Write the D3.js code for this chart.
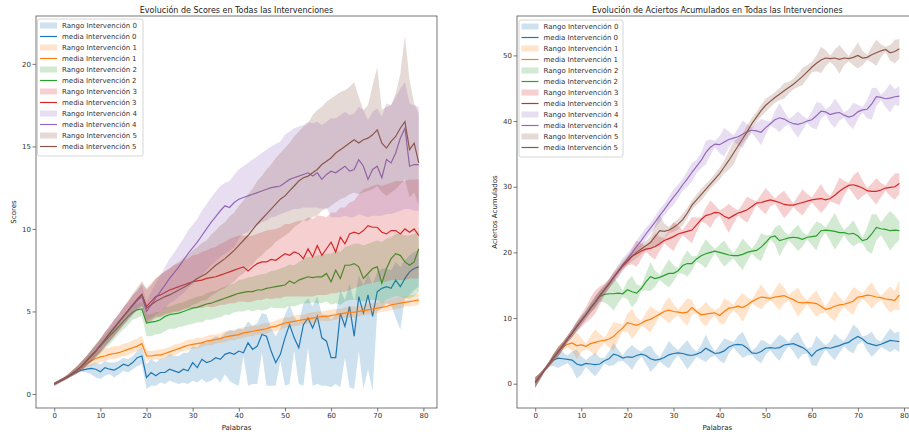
<!DOCTYPE html>
<html>
<head>
<meta charset="utf-8">
<script src="https://cdn.jsdelivr.net/npm/d3@7"></script>
<style>
  body { margin: 0; background: #fff; }
  svg { display: block; font-family: "DejaVu Sans", sans-serif; }
</style>
</head>
<body>
<div class="chart"></div>
<script>
const colors = ['#1f77b4', '#ff7f0e', '#2ca02c', '#d62728', '#9467bd', '#8c564b'];
const intervenciones = ['0', '1', '2', '3', '4', '5'];
const xTicks = [0, 10, 20, 30, 40, 50, 60, 70, 80];
const scoreTicks = [0, 5, 10, 15, 20];
const aciertoTicks = [0, 10, 20, 30, 40, 50];

// ---- Scores (left): media, distance down to range, distance up to range
const scoreMean0 = [0.6,0.75,0.9,1.05,1.2,1.35,1.45,1.5,1.55,1.5,
  1.35,1.6,1.5,1.45,1.6,1.8,1.7,1.9,2.2,2.3,
  1.0,1.3,1.1,1.3,1.3,1.5,1.4,1.3,1.5,1.4,
  1.9,1.6,2.1,1.9,2.0,2.2,2.1,2.4,2.5,2.4,
  2.6,2.5,3.1,2.7,2.9,3.6,3.5,2.6,1.9,2.4,
  3.4,4.2,3.4,2.8,4.2,4.6,4.0,4.7,3.4,3.2,
  2.2,2.2,4.9,4.1,5.3,3.5,5.9,4.9,6.0,4.7,
  6.2,6.4,6.5,6.4,6.9,6.5,7.0,7.4,7.6,7.7];
const scoreDown0 = [0.1,0.1,0.1,0.1,0.1,0.1,0.1,0.2,0.35,0.5,
  0.45,0.5,0.3,0.45,0.4,0.4,0.4,0.4,0.5,0.5,
  0.7,0.8,0.6,0.6,0.7,0.7,0.7,0.7,0.8,0.8,
  1.1,0.9,1.2,1.2,1.2,1.2,1.4,1.2,1.7,1.8,
  2.1,0.2,2.6,2.1,2.3,1.1,3.0,2.1,1.4,0.4,
  2.9,3.6,0.8,2.2,3.7,1.8,3.5,4.1,2.9,2.7,
  1.8,1.6,4.5,1.9,4.9,3.2,3.3,4.6,4.5,4.5,
  1.2,1.2,1.0,1.0,2.3,2.6,1.2,1.4,1.3,1.2];
const scoreUp0 = [0.1,0.1,0.1,0.1,0.1,0.1,0.15,0.2,0.25,0.4,
  0.45,0.4,0.4,0.45,0.4,0.4,0.4,0.4,0.4,0.5,
  0.8,0.8,0.8,0.8,0.9,0.9,0.9,1.0,1.0,1.1,
  1.0,1.2,1.1,1.2,1.3,1.3,1.3,1.3,1.4,1.4,
  1.4,1.4,1.3,1.4,1.4,1.3,1.3,1.4,1.6,1.6,
  1.4,1.2,1.3,1.5,1.3,1.2,1.3,1.2,1.4,1.6,
  2.3,2.6,1.4,1.6,1.4,2.1,1.3,1.7,1.3,1.9,
  1.2,1.2,1.1,1.1,1.1,1.2,1.1,1.0,1.0,1.0];

const scoreMean1 = [0.6,0.75,0.9,1.05,1.25,1.45,1.65,1.85,2.0,2.15,
  2.25,2.3,2.4,2.45,2.5,2.6,2.7,2.8,2.9,3.05,
  2.3,2.3,2.35,2.35,2.45,2.55,2.65,2.75,2.85,2.95,
  3.0,3.05,3.1,3.2,3.25,3.3,3.35,3.45,3.5,3.55,
  3.6,3.7,3.75,3.8,3.85,3.9,3.95,4.05,4.1,4.2,
  4.3,4.35,4.4,4.45,4.5,4.55,4.6,4.65,4.7,4.7,
  4.75,4.8,4.85,4.9,4.95,4.95,5.0,5.05,5.1,5.15,
  5.2,5.25,5.3,5.4,5.45,5.5,5.55,5.6,5.65,5.7];
const scoreDown1 = [0.1,0.1,0.1,0.1,0.1,0.1,0.15,0.2,0.3,0.3,
  0.35,0.3,0.3,0.35,0.3,0.3,0.35,0.3,0.3,0.35,
  0.3,0.25,0.25,0.3,0.25,0.25,0.3,0.25,0.25,0.3,
  0.25,0.3,0.25,0.25,0.3,0.25,0.25,0.3,0.25,0.3,
  0.25,0.3,0.25,0.3,0.25,0.3,0.3,0.25,0.3,0.3,
  0.3,0.25,0.3,0.3,0.25,0.3,0.3,0.3,0.25,0.3,
  0.3,0.3,0.25,0.3,0.3,0.3,0.3,0.25,0.3,0.3,
  0.3,0.25,0.3,0.3,0.3,0.3,0.25,0.3,0.3,0.3];
const scoreUp1 = [0.1,0.1,0.1,0.15,0.2,0.25,0.3,0.35,0.4,0.45,
  0.4,0.45,0.4,0.45,0.4,0.45,0.4,0.45,0.45,0.5,
  0.35,0.3,0.3,0.35,0.3,0.3,0.35,0.3,0.3,0.35,
  0.3,0.35,0.3,0.3,0.35,0.3,0.3,0.35,0.3,0.35,
  0.3,0.35,0.3,0.35,0.3,0.35,0.35,0.3,0.35,0.35,
  0.35,0.3,0.35,0.35,0.3,0.35,0.35,0.35,0.3,0.35,
  0.35,0.35,0.3,0.35,0.35,0.35,0.35,0.3,0.35,0.35,
  0.35,0.3,0.35,0.35,0.4,0.4,0.35,0.4,0.35,0.4];

const scoreMean2 = [0.6,0.75,0.9,1.05,1.25,1.45,1.7,2.0,2.3,2.6,
  2.9,3.2,3.5,3.8,4.1,4.4,4.7,4.95,5.1,5.15,
  4.3,4.35,4.4,4.5,4.7,4.8,4.85,4.9,5.0,5.1,
  5.2,5.25,5.35,5.45,5.5,5.6,5.7,5.8,5.9,6.0,
  6.1,6.15,6.2,6.2,6.3,6.3,6.4,6.45,6.5,6.55,
  6.6,6.85,6.7,6.9,7.0,7.1,7.05,7.1,7.1,7.3,
  6.8,7.5,7.0,7.8,7.8,7.9,7.7,7.0,7.3,7.6,
  7.7,6.7,7.6,8.2,8.5,8.4,8.0,7.8,8.0,8.8];
const scoreDown2 = [0.1,0.1,0.1,0.1,0.15,0.2,0.25,0.3,0.35,0.4,
  0.45,0.45,0.5,0.5,0.45,0.5,0.5,0.45,0.5,0.4,
  0.8,0.85,0.8,0.85,0.9,0.85,0.9,0.85,0.9,0.9,
  0.95,0.9,1.0,0.95,1.0,1.0,1.05,1.0,1.1,1.05,
  1.1,1.15,1.1,1.2,1.2,1.25,1.3,1.2,1.3,1.35,
  1.4,1.5,1.4,1.5,1.5,1.6,1.5,1.6,1.6,1.7,
  1.4,2.0,1.6,2.2,2.1,2.2,2.0,1.4,1.6,1.9,
  2.0,1.2,1.9,2.4,2.6,2.5,2.2,2.0,2.1,2.6];
const scoreUp2 = [0.1,0.1,0.1,0.15,0.2,0.25,0.3,0.3,0.35,0.35,
  0.4,0.35,0.4,0.35,0.4,0.35,0.35,0.4,0.4,0.45,
  0.5,0.5,0.55,0.5,0.55,0.5,0.55,0.6,0.55,0.6,
  0.6,0.65,0.6,0.65,0.7,0.65,0.7,0.7,0.75,0.7,
  0.8,0.8,0.85,0.9,0.9,0.95,0.9,1.0,1.0,1.05,
  1.1,1.0,1.1,1.1,1.2,1.2,1.25,1.3,1.3,1.2,
  1.7,1.2,1.6,1.1,1.2,1.2,1.4,2.0,1.8,1.6,
  1.6,2.5,1.8,1.3,1.2,1.3,1.6,1.8,1.7,1.1];

const scoreMean3 = [0.6,0.75,0.9,1.05,1.25,1.45,1.7,2.0,2.3,2.6,
  2.95,3.3,3.65,4.0,4.35,4.7,5.05,5.4,5.7,6.0,
  5.3,5.6,5.9,6.0,6.15,6.3,6.4,6.5,6.6,6.7,
  6.8,6.85,6.9,7.0,7.05,7.1,7.2,7.3,7.4,7.5,
  7.6,7.7,7.45,7.7,7.9,8.0,8.0,8.15,8.1,8.3,
  8.5,8.4,8.6,8.5,8.2,8.8,8.3,9.0,8.4,8.8,
  9.2,8.6,9.5,9.1,9.7,9.8,9.7,9.9,10.2,10.1,
  10.1,9.8,9.7,9.9,9.9,9.7,10.0,9.8,10.0,9.6];
const scoreDown3 = [0.1,0.1,0.1,0.1,0.15,0.2,0.25,0.3,0.35,0.35,
  0.4,0.4,0.45,0.45,0.5,0.5,0.5,0.55,0.6,0.7,
  1.0,1.1,1.2,1.3,1.3,1.4,1.4,1.5,1.5,1.5,
  1.6,1.6,1.7,1.7,1.8,1.8,1.8,1.9,1.9,2.0,
  2.0,2.1,1.9,2.1,2.2,2.3,2.2,2.4,2.3,2.5,
  2.6,2.5,2.7,2.6,2.3,2.9,2.4,3.0,2.4,2.8,
  3.1,2.5,3.3,2.9,3.4,3.4,3.2,3.3,3.5,3.4,
  3.3,3.0,2.9,3.0,3.0,2.8,3.1,2.8,3.0,2.6];
const scoreUp3 = [0.1,0.1,0.1,0.15,0.2,0.25,0.3,0.3,0.35,0.4,
  0.4,0.45,0.45,0.5,0.5,0.55,0.55,0.6,0.6,0.7,
  1.0,1.0,1.1,1.2,1.3,1.3,1.4,1.4,1.5,1.5,
  1.6,1.6,1.7,1.7,1.8,1.8,1.9,1.9,2.0,2.0,
  2.0,1.9,2.1,1.9,1.8,1.8,1.9,1.8,1.9,1.8,
  1.8,1.9,1.8,2.0,2.3,1.9,2.3,1.8,2.4,1.9,
  1.8,2.4,1.8,2.2,1.9,1.9,2.4,2.5,2.3,2.5,
  2.6,2.8,3.0,2.9,3.0,3.2,2.9,3.2,3.0,3.4];

const scoreMean4 = [0.6,0.75,0.9,1.05,1.25,1.45,1.7,2.0,2.3,2.6,
  2.95,3.3,3.65,4.0,4.35,4.7,5.0,5.35,5.65,5.9,
  5.0,5.4,5.8,6.2,6.6,7.0,7.35,7.7,8.1,8.5,
  8.85,9.2,9.6,10.0,10.4,10.75,11.1,11.4,11.3,11.6,
  11.8,11.9,12.0,12.1,12.2,12.3,12.4,12.5,12.55,12.6,
  12.8,13.0,13.1,13.2,13.3,13.4,13.2,13.4,13.0,13.3,
  13.5,13.4,13.6,13.8,13.5,13.6,14.2,13.8,13.0,13.6,
  13.8,13.1,14.2,14.0,14.6,15.5,16.1,13.8,13.9,13.9];
const scoreDown4 = [0.1,0.1,0.1,0.1,0.15,0.2,0.25,0.3,0.35,0.35,
  0.4,0.45,0.45,0.5,0.5,0.5,0.55,0.55,0.6,0.6,
  0.5,0.8,1.0,1.2,1.4,1.5,1.7,1.8,2.0,2.1,
  2.2,2.3,2.4,2.5,2.6,2.7,2.8,2.9,2.6,2.7,
  2.4,2.2,2.2,2.0,2.0,1.9,1.9,1.8,1.8,1.7,
  1.8,1.9,1.9,2.0,2.0,2.1,1.9,2.1,1.8,2.0,
  2.8,2.7,2.9,3.0,2.8,2.9,3.3,3.0,2.3,2.8,
  3.0,2.3,3.3,3.1,3.6,4.4,4.9,2.6,2.8,2.8];
const scoreUp4 = [0.1,0.1,0.1,0.15,0.2,0.25,0.3,0.3,0.35,0.4,
  0.4,0.45,0.45,0.5,0.5,0.55,0.55,0.6,0.6,0.7,
  0.6,0.8,0.9,1.0,1.1,1.2,1.2,1.3,1.3,1.4,
  1.4,1.4,1.5,1.5,1.5,1.5,1.5,1.4,1.6,1.7,
  1.8,1.9,2.0,2.1,2.2,2.3,2.4,2.5,2.6,2.7,
  2.9,2.9,3.0,3.0,3.0,3.1,3.2,3.1,3.3,3.2,
  3.2,3.3,3.3,3.3,3.4,3.4,3.2,3.4,3.6,3.5,
  3.5,3.7,3.4,3.5,3.4,3.0,2.8,3.8,3.6,3.5];

const scoreMean5 = [0.6,0.75,0.9,1.05,1.25,1.45,1.7,2.0,2.3,2.6,
  2.95,3.3,3.65,4.0,4.35,4.7,5.05,5.4,5.75,6.05,
  5.2,5.4,5.6,5.75,5.9,6.0,6.15,6.3,6.45,6.6,
  6.8,7.0,7.15,7.3,7.55,7.8,8.0,8.2,8.45,8.7,
  9.0,9.3,9.6,9.95,10.3,10.6,10.9,11.2,11.5,11.8,
  12.0,12.3,12.6,12.9,13.1,13.2,13.4,13.6,13.9,14.1,
  14.3,14.6,14.8,15.0,15.2,15.4,15.2,15.4,15.5,15.7,
  16.0,15.2,14.9,15.3,15.6,16.1,16.5,14.8,15.2,14.0];
const scoreDown5 = [0.1,0.1,0.1,0.1,0.15,0.2,0.25,0.3,0.35,0.35,
  0.4,0.45,0.45,0.5,0.5,0.55,0.55,0.6,0.6,0.7,
  0.9,1.0,1.0,1.1,1.1,1.2,1.2,1.3,1.3,1.4,
  1.4,1.5,1.5,1.6,1.6,1.7,1.7,1.8,1.8,1.9,
  1.9,2.0,2.0,2.1,2.1,2.2,2.2,2.3,2.3,2.4,
  2.4,2.5,2.5,2.6,2.6,2.7,2.7,2.8,2.8,2.9,
  2.9,3.0,3.0,3.1,3.1,3.2,3.1,3.2,3.2,3.3,
  3.4,3.0,2.9,3.1,3.2,3.4,3.5,2.9,3.0,2.6];
const scoreUp5 = [0.1,0.1,0.1,0.15,0.2,0.25,0.3,0.3,0.35,0.4,
  0.4,0.45,0.45,0.5,0.5,0.55,0.6,0.65,0.7,0.8,
  1.2,1.3,1.4,1.5,1.5,1.6,1.7,1.7,1.8,1.8,
  1.9,1.9,2.0,2.0,2.1,2.1,2.2,2.2,2.3,2.3,
  2.4,2.4,2.5,2.5,2.6,2.6,2.7,2.7,2.8,2.8,
  2.9,2.9,3.0,3.0,3.1,3.2,3.5,3.6,3.5,3.6,
  3.6,3.5,3.5,3.4,3.4,3.5,2.8,1.8,2.0,3.0,
  3.8,2.0,2.5,2.2,2.6,3.3,5.2,4.2,2.4,3.0];

// ---- Aciertos acumulados (right): media and symmetric spread
const aciertoMean0 = [0.2,1.1,2.1,3.0,3.6,3.9,3.8,3.7,3.6,3.0,
  2.8,3.1,3.0,2.9,3.0,3.5,3.8,4.5,4.3,3.9,
  4.1,4.0,4.3,4.5,4.3,3.8,3.6,3.7,4.0,4.4,
  4.6,4.7,4.6,4.4,4.3,4.5,4.8,5.4,5.0,4.6,
  4.7,5.0,5.6,5.9,6.0,5.9,5.4,4.7,4.6,4.9,
  5.4,5.5,5.4,5.5,5.9,6.0,6.1,5.8,5.5,5.0,
  4.2,5.0,5.3,5.5,5.4,5.6,5.8,6.1,6.3,6.8,
  7.2,6.8,6.2,6.0,5.8,6.0,6.3,6.6,6.5,6.4];
const aciertoSd0 = [0.8,0.5,0.3,0.4,0.9,1.5,1.0,0.6,1.3,2.2,
  1.4,0.5,1.2,1.8,1.0,0.4,1.1,1.7,0.9,0.4,
  1.2,1.9,1.0,0.4,1.2,2.0,1.1,0.3,1.2,2.1,
  1.1,0.4,1.3,2.2,1.2,0.4,1.1,2.1,1.0,0.3,
  1.2,1.9,1.0,0.4,1.3,2.0,1.1,0.3,1.0,1.8,
  1.0,0.4,1.2,2.0,1.1,0.3,1.2,2.1,1.0,0.4,
  1.4,2.3,1.2,0.3,1.1,2.0,1.1,0.4,1.3,2.2,
  1.2,0.4,1.2,1.9,1.0,0.4,1.1,1.8,1.2,1.6];

const aciertoMean1 = [0.2,1.1,2.1,3.0,4.0,4.9,5.6,6.0,6.2,5.8,
  5.9,5.7,6.1,6.3,6.5,6.6,6.8,7.2,7.9,8.5,
  9.3,9.1,8.9,9.2,9.6,9.8,10.2,10.6,11.0,11.2,
  11.0,10.9,10.8,10.9,11.6,11.0,10.5,10.6,10.7,10.8,
  10.4,11.0,11.5,11.6,11.8,11.6,12.0,12.5,12.9,13.2,
  13.1,13.0,13.2,13.3,13.4,13.1,12.8,12.4,12.3,12.4,
  12.3,12.2,11.8,11.3,11.5,11.8,12.0,12.1,12.3,12.6,
  13.2,13.3,13.5,13.4,13.2,13.1,12.9,12.8,12.7,13.5];
const aciertoSd1 = [0.8,0.5,0.3,0.4,0.6,0.8,0.6,0.5,1.2,2.0,
  1.1,0.4,1.2,2.0,1.1,0.4,1.3,2.2,1.3,0.5,
  1.4,2.3,1.2,0.4,1.2,2.0,1.1,0.3,1.2,2.0,
  1.1,0.4,1.3,2.1,1.1,0.3,1.1,1.9,1.0,0.4,
  1.2,2.0,1.1,0.4,1.3,2.2,1.2,0.3,1.1,1.9,
  1.0,0.3,1.2,2.1,1.2,0.4,1.3,2.2,1.1,0.3,
  1.2,2.0,1.1,0.4,1.4,2.3,1.2,0.4,1.3,2.1,
  1.1,0.4,1.2,2.0,1.0,0.3,1.2,2.0,1.4,2.3];

const aciertoMean2 = [0.2,1.1,2.1,3.0,4.0,4.9,5.8,6.8,7.7,8.7,
  9.6,10.5,11.5,12.4,13.3,13.6,13.7,13.7,13.8,13.7,
  14.3,14.0,13.8,14.5,15.5,16.3,16.0,16.2,16.5,16.8,
  16.8,17.2,18.0,18.3,18.3,19.0,19.5,19.8,20.0,20.2,
  20.0,19.8,19.6,19.5,19.5,19.7,20.0,20.2,20.3,20.8,
  21.5,22.3,22.5,21.8,22.0,22.2,22.3,22.2,22.0,22.3,
  22.4,22.5,23.3,23.4,23.3,23.2,23.0,23.0,22.8,22.9,
  22.5,21.8,22.0,22.8,23.8,23.6,23.5,23.3,23.4,23.3];
const aciertoSd2 = [0.8,0.5,0.3,0.4,0.6,0.7,0.6,0.5,0.6,0.7,
  0.6,0.5,0.7,1.0,0.8,1.2,1.8,2.6,1.5,0.5,
  1.4,2.4,1.3,0.4,1.3,2.2,1.2,0.4,1.3,2.1,
  1.2,0.4,1.2,2.0,1.1,0.4,1.3,2.2,1.2,0.3,
  1.2,2.0,1.1,0.4,1.4,2.4,1.3,0.4,1.2,2.1,
  1.1,0.3,1.3,2.4,1.2,0.4,1.2,2.0,1.1,0.3,
  1.3,2.2,1.1,0.4,1.6,2.8,1.5,0.4,1.2,2.0,
  1.1,0.4,1.8,3.0,2.0,1.0,2.0,3.0,2.2,1.4];

const aciertoMean3 = [0.2,1.1,2.1,3.0,4.0,4.9,5.8,6.8,7.7,8.7,
  9.6,10.5,11.5,12.4,13.4,14.3,15.2,16.2,17.1,17.9,
  18.6,19.4,19.8,20.2,20.5,20.6,20.9,21.3,21.8,22.1,
  22.4,22.8,23.0,23.2,23.4,24.2,25.0,25.6,25.8,26.1,
  26.0,25.5,25.2,25.6,26.0,26.2,26.5,27.0,27.5,27.6,
  27.8,28.0,27.8,27.6,27.3,27.2,27.2,27.4,27.6,27.8,
  28.0,28.1,28.2,28.0,28.2,28.7,29.3,29.8,30.2,30.3,
  30.1,29.8,29.4,29.3,29.3,29.5,29.8,29.9,30.0,30.5];
const aciertoSd3 = [0.8,0.5,0.3,0.4,0.6,0.7,0.6,0.5,0.6,0.8,
  1.0,1.2,1.6,1.8,1.4,0.9,0.7,0.6,0.5,0.5,
  0.6,1.2,2.0,1.2,0.4,1.2,2.0,1.1,0.4,1.3,
  2.2,1.2,0.4,1.2,2.0,1.1,0.3,1.2,2.1,1.1,
  0.4,1.3,2.2,1.2,0.4,1.2,2.0,1.1,0.3,1.2,
  2.0,1.0,0.4,1.3,2.1,1.2,0.3,1.2,2.0,1.1,
  0.4,1.3,2.2,1.2,0.4,1.2,2.1,1.1,0.4,1.4,
  2.2,1.2,0.4,1.2,2.0,1.1,0.4,1.3,2.0,1.6];

const aciertoMean4 = [0.2,1.1,2.1,3.0,4.0,4.9,5.8,6.8,7.7,8.7,
  9.6,10.5,11.5,12.4,13.4,14.3,15.2,16.2,17.1,18.1,
  19.0,19.9,20.9,21.8,22.8,23.7,24.6,25.6,26.5,27.5,
  28.4,29.3,30.3,31.2,32.2,33.1,34.0,35.2,36.0,36.5,
  36.4,36.8,37.2,37.4,37.6,38.0,38.4,38.6,38.5,38.3,
  39.0,39.6,40.2,40.5,40.3,39.9,39.6,39.5,39.7,40.0,
  40.2,40.8,41.5,41.4,41.0,41.2,41.3,40.9,40.6,40.8,
  41.4,41.7,41.8,42.6,43.7,43.6,43.4,43.5,43.7,43.8];
const aciertoSd4 = [0.8,0.5,0.3,0.4,0.5,0.6,0.6,0.5,0.6,0.7,
  0.8,0.7,0.6,0.8,0.9,0.8,0.7,0.8,1.0,1.0,
  0.9,0.8,0.9,1.0,0.9,0.8,0.9,1.0,0.9,1.0,
  1.2,1.0,0.9,1.2,1.4,1.0,1.2,1.8,1.2,0.5,
  1.3,2.2,1.2,0.4,1.3,2.1,1.1,0.4,1.2,2.0,
  1.1,0.3,1.3,2.2,1.2,0.4,1.2,2.0,1.1,0.3,
  1.2,2.1,1.2,0.4,1.3,2.2,1.2,0.4,1.2,2.0,
  1.1,0.4,1.4,2.4,1.4,0.4,1.3,2.2,1.2,1.5];

const aciertoMean5 = [0.2,1.1,2.1,3.0,4.0,4.9,5.8,6.8,7.7,8.7,
  9.6,10.5,11.5,12.4,13.4,14.3,15.2,16.2,17.1,18.1,
  18.8,19.4,20.0,20.5,21.0,21.5,22.4,23.3,23.2,23.4,
  23.8,24.3,25.0,26.0,27.2,28.0,28.8,29.6,30.4,31.2,
  32.0,33.0,34.0,35.1,36.2,37.3,38.4,39.6,40.6,41.6,
  42.4,43.0,43.6,44.1,44.6,45.1,45.6,46.2,46.8,47.5,
  48.2,48.8,49.3,49.6,49.5,49.6,49.4,49.6,49.5,49.7,
  50.0,49.6,49.7,50.1,50.4,50.7,50.9,50.4,50.6,51.0];
const aciertoSd5 = [0.8,0.5,0.3,0.4,0.5,0.6,0.5,0.5,0.6,0.6,
  0.6,0.7,0.8,0.8,0.7,0.6,0.7,0.8,0.7,0.6,
  0.7,0.8,0.9,0.8,0.7,0.9,1.6,2.4,1.2,0.5,
  0.7,0.8,0.9,0.8,0.7,0.8,0.9,0.8,0.7,0.8,
  0.9,1.0,1.4,1.8,1.2,0.8,1.0,0.9,0.8,0.9,
  1.0,0.9,0.8,0.9,1.2,0.9,0.8,1.0,1.3,1.0,
  0.8,1.2,2.0,1.2,0.5,1.3,2.2,1.1,0.4,1.2,
  2.0,1.1,0.4,1.2,2.0,1.0,0.4,1.2,1.8,1.5];

const scoreMeans = [scoreMean0, scoreMean1, scoreMean2, scoreMean3, scoreMean4, scoreMean5];
const scoreDowns = [scoreDown0, scoreDown1, scoreDown2, scoreDown3, scoreDown4, scoreDown5];
const scoreUps = [scoreUp0, scoreUp1, scoreUp2, scoreUp3, scoreUp4, scoreUp5];
const aciertoMeans = [aciertoMean0, aciertoMean1, aciertoMean2, aciertoMean3, aciertoMean4, aciertoMean5];
const aciertoSds = [aciertoSd0, aciertoSd1, aciertoSd2, aciertoSd3, aciertoSd4, aciertoSd5];

const width = 909, height = 432;
const plotTop = 16, plotBottom = 408;

const svg = d3.select('.chart').append('svg')
    .attr('width', width)
    .attr('height', height);

function drawPanel(cfg) {
    const xScale = d3.scaleLinear().domain([-3.95, 82.95]).range([cfg.left, cfg.right]);
    const yScale = d3.scaleLinear().domain(cfg.yDomain).range([plotBottom, plotTop]);

    svg.append('clipPath').attr('id', cfg.id)
        .append('rect')
        .attr('x', cfg.left).attr('y', plotTop)
        .attr('width', cfg.right - cfg.left).attr('height', plotBottom - plotTop);

    const g = svg.append('g').attr('clip-path', `url(#${cfg.id})`);

    cfg.series.forEach((s, i) => {
        const rows = s.mean.map((m, j) => ({x: j, m: m, lo: s.lo[j], hi: s.hi[j]}));
        g.append('path')
            .datum(rows)
            .attr('fill', colors[i])
            .attr('fill-opacity', 0.22)
            .attr('d', d3.area().x(d => xScale(d.x)).y0(d => yScale(d.lo)).y1(d => yScale(d.hi)));
        g.append('path')
            .datum(rows)
            .attr('fill', 'none')
            .attr('stroke', colors[i])
            .attr('stroke-width', 1.2)
            .attr('d', d3.line().x(d => xScale(d.x)).y(d => yScale(d.m)));
    });

    // axes
    const xAxis = svg.append('g')
        .attr('transform', `translate(0, ${plotBottom})`)
        .call(d3.axisBottom(xScale).tickValues(xTicks).tickSize(3.5).tickSizeOuter(0).tickPadding(2));
    const yAxis = svg.append('g')
        .attr('transform', `translate(${cfg.left}, 0)`)
        .call(d3.axisLeft(yScale).tickValues(cfg.yTicks).tickSize(3.5).tickSizeOuter(0).tickPadding(1.5));
    [xAxis, yAxis].forEach(a => {
        a.attr('font-family', null).attr('font-size', null);
        a.select('.domain').remove();
        a.selectAll('line').attr('stroke', '#555').attr('stroke-width', 0.8);
        a.selectAll('text').attr('fill', '#333').style('font-size', '7px');
    });

    svg.append('rect')
        .attr('x', cfg.left).attr('y', plotTop)
        .attr('width', cfg.right - cfg.left).attr('height', plotBottom - plotTop)
        .attr('fill', 'none').attr('stroke', '#555').attr('stroke-width', 0.8);

    const cx = (cfg.left + cfg.right) / 2;
    svg.append('text')
        .attr('x', cx).attr('y', 12.5)
        .attr('text-anchor', 'middle')
        .attr('fill', '#222')
        .style('font-size', '8px')
        .text(cfg.title);
    svg.append('text')
        .attr('x', cx).attr('y', 430)
        .attr('text-anchor', 'middle')
        .attr('fill', '#222')
        .style('font-size', '7px')
        .text('Palabras');
    svg.append('text')
        .attr('transform', `translate(${cfg.ylabelX}, ${(plotTop + plotBottom) / 2}) rotate(-90)`)
        .attr('text-anchor', 'middle')
        .attr('fill', '#222')
        .style('font-size', '7px')
        .text(cfg.ylabel);

    // legend
    const leg = svg.append('g');
    leg.append('rect')
        .attr('x', cfg.legX).attr('y', cfg.legY)
        .attr('width', cfg.legW).attr('height', 137)
        .attr('rx', 2)
        .attr('fill', 'white').attr('fill-opacity', 0.8)
        .attr('stroke', '#ccc').attr('stroke-width', 0.8);
    intervenciones.forEach((name, i) => {
        const yR = cfg.legY + 6.5 + (2 * i) * 11;
        const yM = yR + 11;
        leg.append('rect')
            .attr('x', cfg.legX + 2.5).attr('y', yR - 3)
            .attr('width', 17).attr('height', 6)
            .attr('fill', colors[i]).attr('fill-opacity', 0.22);
        leg.append('text')
            .attr('x', cfg.legX + 24.5).attr('y', yR + 2.5)
            .attr('fill', '#333').style('font-size', '7px')
            .text('Rango Intervención ' + name);
        leg.append('line')
            .attr('x1', cfg.legX + 2.5).attr('x2', cfg.legX + 19.5)
            .attr('y1', yM).attr('y2', yM)
            .attr('stroke', colors[i]).attr('stroke-width', 1.2);
        leg.append('text')
            .attr('x', cfg.legX + 24.5).attr('y', yM + 2.5)
            .attr('fill', '#333').style('font-size', '7px')
            .text('media Intervención ' + name);
    });
}

drawPanel({
    id: 'clip-scores',
    left: 36, right: 437,
    yDomain: [-0.85, 22.9],
    yTicks: scoreTicks,
    title: 'Evolución de Scores en Todas las Intervenciones',
    ylabel: 'Scores',
    ylabelX: 16,
    legX: 37.5, legY: 19, legW: 105.5,
    series: scoreMeans.map((m, i) => ({
        mean: m,
        lo: m.map((v, j) => v - scoreDowns[i][j]),
        hi: m.map((v, j) => v + scoreUps[i][j])
    }))
});

drawPanel({
    id: 'clip-aciertos',
    left: 517, right: 917.6,
    yDomain: [-3.7, 56.0],
    yTicks: aciertoTicks,
    title: 'Evolución de Aciertos Acumulados en Todas las Intervenciones',
    ylabel: 'Aciertos Acumulados',
    ylabelX: 497,
    legX: 519, legY: 20, legW: 104,
    series: aciertoMeans.map((m, i) => ({
        mean: m,
        lo: m.map((v, j) => v - aciertoSds[i][j]),
        hi: m.map((v, j) => v + aciertoSds[i][j])
    }))
});
</script>
</body>
</html>
